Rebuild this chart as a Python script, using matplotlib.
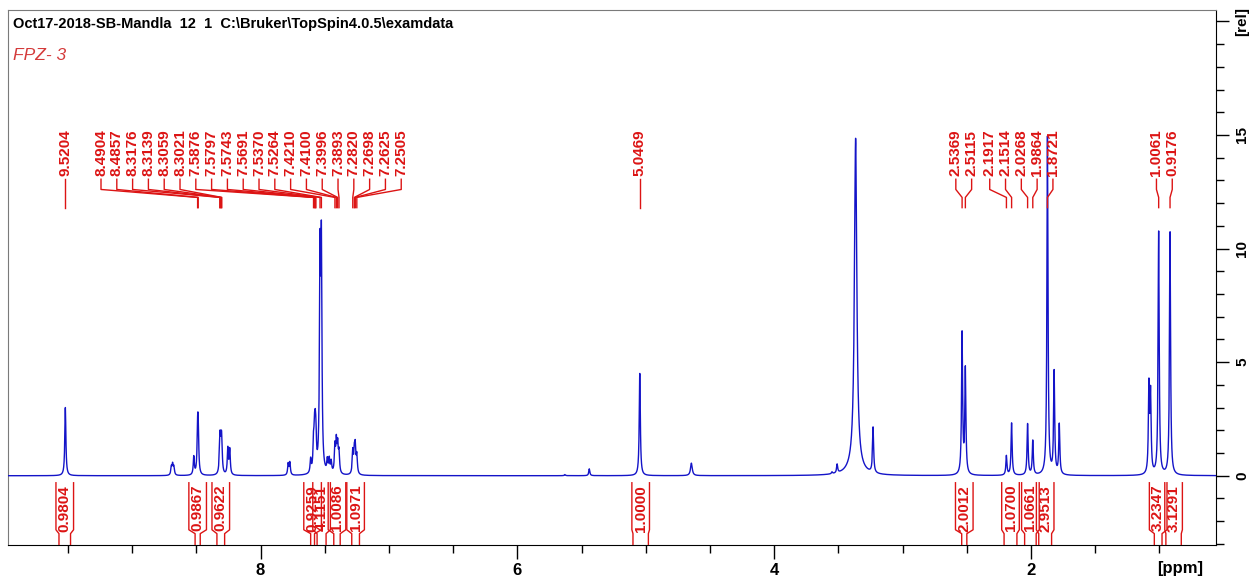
import numpy as np
import matplotlib
matplotlib.use("Agg")
import matplotlib.pyplot as plt
from matplotlib.ticker import MultipleLocator

plt.rcParams["font.family"] = ["Liberation Sans", "DejaVu Sans"]

# ---------------------------------------------------------------- data
title_text = "Oct17-2018-SB-Mandla  12  1  C:\\Bruker\\TopSpin4.0.5\\examdata"
sample_text = "FPZ- 3"

# resonance lines: position [ppm], amplitude [rel], half width [ppm]
line_ppm = [9.5204, 8.695, 8.685, 8.675, 8.52, 8.4904, 8.4857,
            8.3176, 8.3139, 8.3059, 8.3021, 8.255, 8.240,
            7.785, 7.772, 7.61, 7.5876, 7.5797, 7.5743, 7.5691,
            7.5370, 7.5264, 7.480, 7.465, 7.450,
            7.4210, 7.4100, 7.3996, 7.3893,
            7.2820, 7.2698, 7.2625, 7.2505,
            5.63, 5.44, 5.0469, 4.645, 3.55, 3.51,
            3.366, 3.37, 3.23,
            2.5369, 2.5115, 2.1917, 2.1514, 2.0268, 1.9864,
            1.8721, 1.82, 1.78, 1.082, 1.069, 1.0061, 0.9176]
line_amp = [3.0, 0.35, 0.45, 0.35, 0.8, 1.7, 1.7,
            0.95, 0.95, 0.95, 0.95, 1.15, 1.1,
            0.5, 0.55, 0.6, 1.2, 1.4, 1.3, 1.2,
            9.0, 9.5, 0.55, 0.6, 0.5,
            1.15, 1.3, 1.15, 0.9,
            1.0, 0.9, 1.1, 0.8,
            0.05, 0.3, 4.5, 0.55, 0.08, 0.38,
            14.5, 0.35, 2.0,
            6.2, 4.6, 0.85, 2.3, 2.25, 1.5,
            14.9, 4.5, 2.2, 3.8, 3.4, 10.7, 10.7]
line_hw = [0.005] * len(line_ppm)
line_hw[line_ppm.index(4.645)] = 0.008
line_hw[line_ppm.index(3.366)] = 0.011
line_hw[line_ppm.index(3.37)] = 0.06

# picked peaks
peak_labels = [9.5204, 8.4904, 8.4857, 8.3176, 8.3139, 8.3059, 8.3021,
               7.5876, 7.5797, 7.5743, 7.5691, 7.5370, 7.5264,
               7.4210, 7.4100, 7.3996, 7.3893, 7.2820, 7.2698, 7.2625,
               7.2505, 5.0469, 2.5369, 2.5115, 2.1917, 2.1514, 2.0268,
               1.9864, 1.8721, 1.0061, 0.9176]

# integrals: value, range start and end [ppm]
integral_values = ["0.9804", "0.9867", "0.9622", "0.9259", "4.1151",
                   "1.0086", "1.0971", "1.0000", "2.0012", "1.0700",
                   "1.0661", "2.9513", "3.2347", "3.1291"]
integral_from = [9.57, 8.51, 8.34, 7.61, 7.56, 7.43, 7.29, 5.10,
                 2.54, 2.21, 2.05, 1.94, 1.04, 0.95]
integral_to = [9.48, 8.47, 8.28, 7.58, 7.49, 7.38, 7.23, 4.98,
               2.50, 2.11, 1.96, 1.84, 0.98, 0.83]

# ---------------------------------------------------------------- layout
W, H = 1250, 579
PX_PER_PPM = 128.4
X_LEFT, X_RIGHT = 9.967, 0.562
Y_LOW, Y_HIGH = -3.05, 20.5
RED = "#dc1414"
BLUE = "#1414c8"
LABEL_SPACING = 15.8 / PX_PER_PPM
GROUP_SHIFT = {8.4904: 0.36, 2.1917: 0.03}

fig = plt.figure(figsize=(W / 100, H / 100), dpi=100)
ax = fig.add_axes([8 / W, 34 / H, 1207.7 / W, 535 / H])
ax.set_xlim(X_LEFT, X_RIGHT)
ax.set_ylim(Y_LOW, Y_HIGH)

# spectrum as a sum of Lorentzian lines
ppm = np.linspace(X_RIGHT, X_LEFT, 60000)
spec = np.zeros_like(ppm)
for p, a, w in zip(line_ppm, line_amp, line_hw):
    spec += a / (1.0 + ((ppm - p) / w) ** 2)
ax.plot(ppm, spec, color=BLUE, lw=1.0, zorder=3)

# ---------------------------------------------------------------- peak labels
peaks = sorted(peak_labels, reverse=True)
clusters = [[p] for p in peaks]


def placed(cl):
    c = float(np.mean(cl))
    n = len(cl)
    return [c + ((n - 1) / 2 - i) * LABEL_SPACING for i in range(n)]


merged = True
while merged:
    merged = False
    for i in range(len(clusters) - 1):
        if placed(clusters[i])[-1] - placed(clusters[i + 1])[0] < LABEL_SPACING:
            clusters[i] = clusters[i] + clusters.pop(i + 1)
            merged = True
            break

y_text = 13.2
y_a, y_b, y_c = 13.05, 12.6, 12.25
y_d = 11.8
for cl in clusters:
    pos = placed(cl)
    shift = GROUP_SHIFT.get(cl[0], 0.0)
    pos = [q + shift for q in pos]
    for p, lx in zip(cl, pos):
        ax.text(lx, y_text, f"{p:.4f}", rotation=90, ha="center", va="bottom",
                color=RED, fontsize=11, fontweight="bold", zorder=5)
        ax.plot([lx, lx, p, p], [y_a, y_b, y_c, y_d], color=RED, lw=1.0,
                zorder=4)

# ---------------------------------------------------------------- integrals
box_half = 8.8 / PX_PER_PPM
yi_top, yi_k1, yi_k2 = -0.31, -2.38, -2.55
for val, a, b in zip(integral_values, integral_from, integral_to):
    xc = 0.5 * (a + b)
    ax.plot([xc + box_half, xc + box_half, a, a],
            [yi_top, yi_k1, yi_k2, Y_LOW], color=RED, lw=1.0, zorder=4)
    ax.plot([xc - box_half, xc - box_half, b, b],
            [yi_top, yi_k1, yi_k2, Y_LOW], color=RED, lw=1.0, zorder=4)
    ax.text(xc, -0.4, val, rotation=90, ha="center", va="top", color=RED,
            fontsize=11, fontweight="bold", zorder=5)

# ---------------------------------------------------------------- axes
ax.xaxis.set_major_locator(MultipleLocator(2))
ax.xaxis.set_minor_locator(MultipleLocator(0.5))
ax.tick_params(axis="x", which="major", direction="out", length=10, width=1,
               labelsize=12, pad=3)
ax.tick_params(axis="x", which="minor", direction="out", length=6, width=1)
for t in ax.get_xticklabels():
    t.set_fontweight("bold")

ax.yaxis.tick_right()
ax.set_yticks([0, 5, 10, 15, 20])
ax.set_yticklabels(["0", "5", "10", "15", "[rel]"])
ax.yaxis.set_minor_locator(MultipleLocator(1))
ax.tick_params(axis="y", which="major", direction="out", length=9, width=1,
               labelsize=11, pad=5, labelrotation=90)
ax.tick_params(axis="y", which="minor", direction="out", length=6, width=1)
for t in ax.get_yticklabels():
    t.set_fontweight("bold")
    t.set_va("center")

for side in ("left", "top"):
    ax.spines[side].set_color("#7a7a7a")
for side in ("right", "bottom"):
    ax.spines[side].set_color("black")

fig.text(1180 / W, 1 - 568 / H, "[ppm]", ha="center", va="center",
         fontsize=12, fontweight="bold")
fig.text(13 / W, 1 - 24 / H, title_text, ha="left", va="center",
         fontsize=10.5, fontweight="bold", color="black")
fig.text(13 / W, 1 - 55 / H, sample_text, ha="left", va="center",
         fontsize=12.5, fontstyle="italic", color="#d43a3a")

fig.savefig("out.png", dpi=100, facecolor="white")
